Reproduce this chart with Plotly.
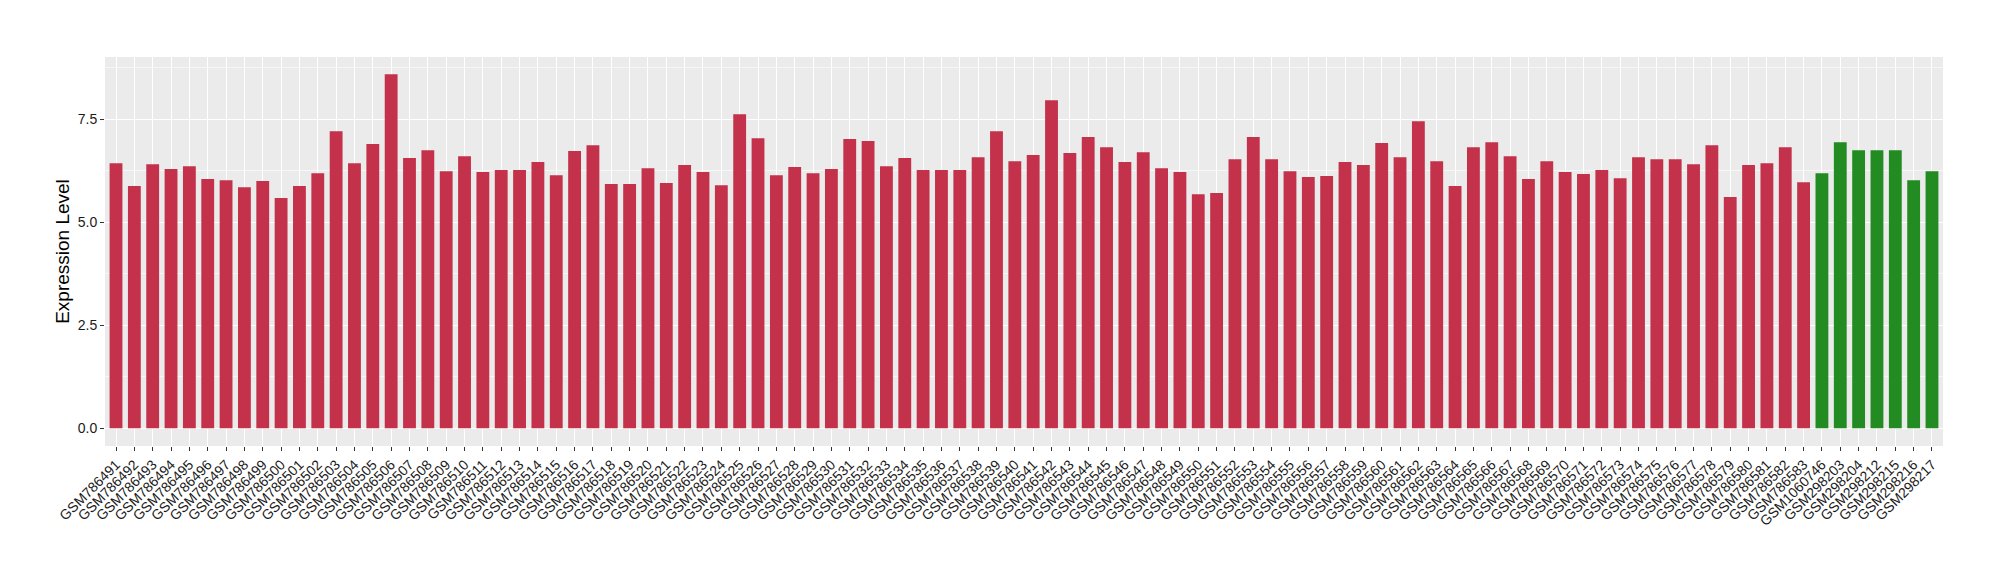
import plotly.graph_objects as go

# sample names (x categories)
tumor_samples = [
    "GSM786491", "GSM786492", "GSM786493", "GSM786494", "GSM786495", "GSM786496", "GSM786497", "GSM786498",
    "GSM786499", "GSM786500", "GSM786501", "GSM786502", "GSM786503", "GSM786504", "GSM786505", "GSM786506",
    "GSM786507", "GSM786508", "GSM786509", "GSM786510", "GSM786511", "GSM786512", "GSM786513", "GSM786514",
    "GSM786515", "GSM786516", "GSM786517", "GSM786518", "GSM786519", "GSM786520", "GSM786521", "GSM786522",
    "GSM786523", "GSM786524", "GSM786525", "GSM786526", "GSM786527", "GSM786528", "GSM786529", "GSM786530",
    "GSM786531", "GSM786532", "GSM786533", "GSM786534", "GSM786535", "GSM786536", "GSM786537", "GSM786538",
    "GSM786539", "GSM786540", "GSM786541", "GSM786542", "GSM786543", "GSM786544", "GSM786545", "GSM786546",
    "GSM786547", "GSM786548", "GSM786549", "GSM786550", "GSM786551", "GSM786552", "GSM786553", "GSM786554",
    "GSM786555", "GSM786556", "GSM786557", "GSM786558", "GSM786559", "GSM786560", "GSM786561", "GSM786562",
    "GSM786563", "GSM786564", "GSM786565", "GSM786566", "GSM786567", "GSM786568", "GSM786569", "GSM786570",
    "GSM786571", "GSM786572", "GSM786573", "GSM786574", "GSM786575", "GSM786576", "GSM786577", "GSM786578",
    "GSM786579", "GSM786580", "GSM786581", "GSM786582", "GSM786583",
]
normal_samples = ["GSM1060746", "GSM298203", "GSM298204", "GSM298212", "GSM298215", "GSM298216", "GSM298217"]

# expression values
tumor_values = [
    6.43, 5.88, 6.41, 6.29, 6.36, 6.05, 6.02, 5.85, 6.00, 5.59, 5.88, 6.19, 7.21, 6.43, 6.90, 8.59,
    6.56, 6.75, 6.24, 6.60, 6.22, 6.27, 6.27, 6.46, 6.14, 6.73, 6.87, 5.93, 5.93, 6.31, 5.95, 6.39,
    6.22, 5.90, 7.62, 7.04, 6.14, 6.34, 6.19, 6.29, 7.02, 6.97, 6.36, 6.56, 6.27, 6.27, 6.27, 6.58,
    7.21, 6.48, 6.63, 7.96, 6.68, 7.07, 6.82, 6.46, 6.70, 6.31, 6.22, 5.68, 5.71, 6.53, 7.07, 6.53,
    6.24, 6.10, 6.12, 6.46, 6.39, 6.92, 6.58, 7.45, 6.48, 5.88, 6.82, 6.94, 6.60, 6.05, 6.48, 6.22,
    6.17, 6.27, 6.07, 6.58, 6.53, 6.53, 6.41, 6.87, 5.61, 6.39, 6.43, 6.82, 5.97,
]
normal_values = [6.19, 6.94, 6.75, 6.75, 6.75, 6.02, 6.24]

samples = tumor_samples + normal_samples
values = tumor_values + normal_values

RED = "#C3314A"
GREEN = "#228B22"
colors = [RED] * len(tumor_samples) + [GREEN] * len(normal_samples)

fig = go.Figure(
    go.Bar(
        x=samples,
        y=values,
        marker=dict(color=colors, line=dict(width=0)),
        width=0.7,
        showlegend=False,
    )
)

fig.update_xaxes(
    type="category",
    categoryorder="array",
    categoryarray=samples,
    range=[-0.6, len(samples) - 0.4],
    tickangle=-45,
    ticks="outside",
    ticklen=4,
    tickcolor="#333333",
    tickfont=dict(size=14, color="#1a1a1a"),
    showgrid=True,
    gridcolor="white",
    gridwidth=1.2,
    zeroline=False,
    showline=False,
    automargin=False,
)

fig.update_yaxes(
    range=[-0.43, 9.01],
    tick0=0,
    dtick=2.5,
    tickformat=".1f",
    ticks="outside",
    ticklen=4,
    tickcolor="#333333",
    tickfont=dict(size=14, color="#1a1a1a"),
    showgrid=True,
    gridcolor="white",
    gridwidth=1.2,
    minor=dict(tick0=0, dtick=1.25, showgrid=True, gridcolor="#F7F7F7", gridwidth=0.6),
    zeroline=False,
    showline=False,
    automargin=False,
    title=dict(text="Expression Level", font=dict(size=19, color="black"), standoff=3),
)

# page body adds an 8px offset, margins compensate for it
fig.update_layout(
    width=2000,
    height=580,
    margin=dict(l=97, r=65, t=49, b=142),
    plot_bgcolor="#EBEBEB",
    paper_bgcolor="white",
    font=dict(family="Liberation Sans, Arial, sans-serif"),
    bargap=0.3,
)

fig.write_html("out.html")
